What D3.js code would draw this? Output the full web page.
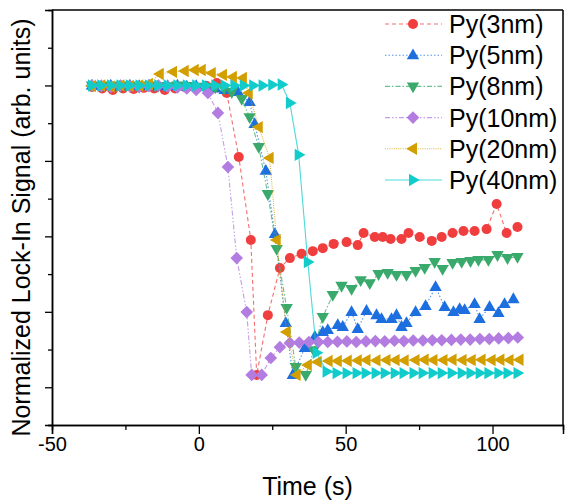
<!DOCTYPE html>
<html><head><meta charset="utf-8">
<script src="https://cdn.jsdelivr.net/npm/d3@7/dist/d3.min.js"></script>
<style>
html,body{margin:0;padding:0;background:#fff;}
text{font-family:"Liberation Sans",Arial,sans-serif;fill:#000;}
</style></head>
<body>
<svg id="chart" width="565" height="502"></svg>
<script>
// ---------- data ----------
const seriesNames = ["Py(3nm)","Py(5nm)","Py(8nm)","Py(10nm)","Py(20nm)","Py(40nm)"];
const xTicks = [-50, 0, 50, 100];
const xTickLabels = ["-50", "0", "50", "100"];
const xMinorTicks = [-25, 25, 75];
const yTicks = [0, 0.25, 0.5, 0.75, 1.0];
const yMinorTicks = [-0.125, 0.125, 0.375, 0.625, 0.875, 1.125];

const t3 = [-36.4,-32.9,-29.3,-25.8,-22.2,-18.7,-15.2,-11.6,-8.1,-4.5,-1.0,2.6,6.1,9.5,13.6,17.7,19.7,23.5,27.6,31.0,35.0,38.8,42.2,45.9,50.3,54.1,56.1,59.9,62.6,65.3,69.0,71.4,75.2,79.3,82.7,86.4,90.1,93.9,98.0,101.4,104.8,108.5];
const s3 = [0.995,0.99,0.985,0.99,0.988,0.992,0.99,0.985,0.99,0.993,0.995,0.998,1.008,0.975,0.763,0.488,0.041,0.239,0.395,0.428,0.442,0.451,0.461,0.475,0.481,0.471,0.511,0.498,0.498,0.491,0.491,0.511,0.498,0.485,0.498,0.511,0.518,0.518,0.524,0.607,0.511,0.531];

const t5 = [-36.4,-33.2,-30.0,-26.7,-23.5,-20.3,-17.0,-13.8,-10.6,-7.3,-4.1,-0.9,2.4,5.6,8.8,13.3,17.3,19.0,22.8,25.9,29.6,32.0,36.1,39.5,42.2,43.9,47.3,49.0,52.0,54.1,57.1,60.5,62.2,65.6,67.3,69.0,70.7,73.8,77.2,80.6,83.7,86.7,88.8,90.5,93.9,95.6,99.0,102.0,104.1,107.1];
const s5 = [1.0,0.998,1.0,0.997,1.0,0.998,1.0,0.997,0.998,1.0,0.996,0.998,0.995,0.99,0.985,0.978,0.945,0.872,0.717,0.508,0.213,0.041,0.130,0.167,0.183,0.190,0.206,0.200,0.249,0.193,0.253,0.239,0.226,0.226,0.239,0.200,0.213,0.249,0.269,0.332,0.266,0.249,0.259,0.256,0.276,0.226,0.266,0.246,0.276,0.292];

const t8 = [-36.4,-33.2,-30.0,-26.7,-23.5,-20.3,-17.0,-13.8,-10.6,-7.3,-4.1,-0.9,2.4,5.6,8.6,11.2,14.6,17.3,20.4,23.5,26.5,29.9,33.0,36.4,39.1,42.2,45.6,48.6,52.0,55.1,58.2,61.2,64.3,67.3,70.7,73.8,76.9,80.3,83.0,86.4,89.5,92.5,95.2,98.6,101.7,105.1,108.5];
const s8 = [1.0,0.997,1.0,0.998,1.0,0.996,1.0,0.998,0.997,1.0,0.998,0.996,0.995,0.993,0.99,0.978,0.955,0.895,0.796,0.640,0.458,0.263,0.067,0.041,0.123,0.233,0.306,0.336,0.326,0.355,0.345,0.375,0.379,0.372,0.372,0.385,0.395,0.415,0.392,0.412,0.415,0.418,0.422,0.422,0.438,0.428,0.432];

const t10 = [-36.4,-33.2,-30.0,-26.7,-23.5,-20.3,-17.0,-13.8,-10.6,-7.3,-4.1,-0.9,3.1,6.5,9.9,12.9,16.3,18.0,21.4,24.5,27.6,31.0,34.2,37.5,40.7,43.9,47.2,50.4,53.6,56.9,60.1,63.3,66.6,69.8,73.0,76.3,79.5,82.7,86.0,89.2,92.4,95.7,98.9,102.1,105.4,108.6];
const s10 = [1.0,0.998,0.995,1.0,0.997,0.995,0.998,1.0,0.996,0.993,0.99,0.985,0.975,0.909,0.730,0.428,0.249,0.041,0.041,0.097,0.133,0.147,0.148,0.150,0.150,0.150,0.151,0.152,0.150,0.152,0.153,0.152,0.154,0.153,0.155,0.155,0.156,0.156,0.157,0.158,0.158,0.160,0.160,0.162,0.163,0.165];

const t20 = [-36.4,-33.2,-30.0,-26.7,-23.5,-20.3,-17.0,-13.3,-8.8,-4.8,-1.4,1.0,4.4,8.2,11.6,15.0,17.0,20.4,24.1,26.5,29.9,33.3,37.1,40.5,44.2,47.3,50.7,54.1,57.1,60.5,63.9,67.0,70.1,73.8,76.9,79.9,83.3,86.4,89.8,92.9,96.3,99.7,102.7,105.8,109.2];
const s20 = [0.998,1.0,0.996,1.0,0.998,1.0,1.005,1.038,1.045,1.048,1.051,1.051,1.041,1.035,1.028,1.025,0.975,0.862,0.760,0.488,0.183,0.041,0.074,0.084,0.087,0.087,0.088,0.089,0.090,0.089,0.090,0.090,0.089,0.090,0.091,0.090,0.090,0.091,0.090,0.090,0.091,0.090,0.091,0.090,0.091];

const t40 = [-36.4,-33.2,-29.9,-26.7,-23.5,-20.2,-17.0,-13.8,-10.6,-7.3,-4.1,-0.9,2.4,5.6,8.8,12.1,15.3,18.5,21.7,25.0,28.2,31.0,34.0,37.1,40.1,43.5,46.9,50.3,53.7,56.8,60.2,63.3,66.7,69.7,73.1,76.2,79.6,82.7,86.1,89.5,92.5,95.6,98.6,102.0,105.1,108.5];
const s40 = [1.0,1.0,1.0,1.0,1.0,1.0,1.0,1.0,1.0,1.0,1.0,1.0,1.0,1.0,1.0,1.0,1.0,1.0,1.0,1.002,1.003,0.942,0.770,0.415,0.114,0.052,0.047,0.047,0.047,0.047,0.047,0.047,0.047,0.047,0.047,0.047,0.047,0.047,0.047,0.047,0.047,0.047,0.047,0.047,0.047,0.047];

const seriesT = [t3, t5, t8, t10, t20, t40];
const seriesS = [s3, s5, s8, s10, s20, s40];

// ---------- styles ----------
const colors = ["#F03E3E","#1D6FE0","#3AAA6C","#B27CE0","#D29E00","#12CCCC"];
const dashes = ["4,3","1.5,2","5,2,1.5,2","5,2,1.5,2,1.5,2","1,1.2",null];
const shapes = ["circle","up","down","diamond","left","right"];

function markerPath(kind){
  switch(kind){
    case "up": return "M0,-6.8L6.2,4L-6.2,4Z";
    case "down": return "M0,6.8L6.2,-4L-6.2,-4Z";
    case "left": return "M-6.8,0L4,-6.2L4,6.2Z";
    case "right": return "M6.8,0L-4,-6.2L-4,6.2Z";
    case "diamond": return "M0,-6.3L6.3,0L0,6.3L-6.3,0Z";
  }
  return null;
}

const L = 52, R = 563, T = 10, B = 425;
const svg = d3.select("#chart");

const x = d3.scaleLinear().domain([-50, 124]).range([L, R]);
const y = d3.scaleLinear().domain([-0.125, 1.25]).range([B, T]);

// frame top / right
svg.append("line").attr("x1",L).attr("x2",R).attr("y1",T).attr("y2",T).attr("stroke","#000").attr("stroke-width",1.5);
svg.append("line").attr("x1",R).attr("x2",R).attr("y1",T).attr("y2",B).attr("stroke","#000").attr("stroke-width",1.5);

// axes
const gx = svg.append("g").attr("transform",`translate(0,${B})`)
  .call(d3.axisBottom(x).tickValues(xTicks).tickSize(9).tickPadding(3)
    .tickFormat((d,i)=>xTickLabels[i]));
svg.append("g").attr("transform",`translate(0,${B})`)
  .call(d3.axisBottom(x).tickValues(xMinorTicks).tickSize(5).tickFormat(""));
svg.append("g").attr("transform",`translate(${L},0)`)
  .call(d3.axisLeft(y).tickValues(yTicks).tickSize(7).tickFormat(""));
svg.append("g").attr("transform",`translate(${L},0)`)
  .call(d3.axisLeft(y).tickValues(yMinorTicks).tickSize(4).tickFormat(""));
svg.selectAll(".domain").attr("stroke","#000").attr("stroke-width",1.5);
svg.selectAll(".tick line").attr("stroke","#000").attr("stroke-width",1.3);
gx.selectAll(".tick text").attr("font-size",20).style("font-family","'Liberation Sans',Arial,sans-serif");

// axis titles
svg.append("text").attr("x",(L+R)/2).attr("y",495).attr("text-anchor","middle").attr("font-size",25).text("Time (s)");
svg.append("text").attr("transform",`translate(30,${(T+B)/2+10}) rotate(-90)`).attr("text-anchor","middle").attr("font-size",25).text("Normalized Lock-In Signal (arb. units)");

// series
const plot = svg.append("g");
seriesNames.forEach((name,i)=>{
  const data = seriesT[i].map((t,k)=>({t, s: seriesS[i][k]}));
  const line = d3.line().x(d=>x(d.t)).y(d=>y(d.s));
  const g = plot.append("g");
  g.append("path").datum(data).attr("d",line).attr("fill","none")
    .attr("stroke",colors[i]).attr("stroke-opacity",0.75).attr("stroke-width",1.1)
    .attr("stroke-dasharray",dashes[i]);
  if(shapes[i]==="circle"){
    g.selectAll("circle").data(data).join("circle")
      .attr("cx",d=>x(d.t)).attr("cy",d=>y(d.s)).attr("r",5).attr("fill",colors[i]);
  } else {
    g.selectAll("path.m").data(data).join("path").attr("class","m")
      .attr("transform",d=>`translate(${x(d.t)},${y(d.s)})`)
      .attr("d",markerPath(shapes[i])).attr("fill",colors[i]);
  }
});

// legend
const lg = svg.append("g");
seriesNames.forEach((name,i)=>{
  const yy = 24 + 31.2*i;
  lg.append("line").attr("x1",385).attr("x2",442).attr("y1",yy).attr("y2",yy)
    .attr("stroke",colors[i]).attr("stroke-opacity",0.75).attr("stroke-width",1.1).attr("stroke-dasharray",dashes[i]);
  if(shapes[i]==="circle"){
    lg.append("circle").attr("cx",413).attr("cy",yy).attr("r",5).attr("fill",colors[i]);
  } else {
    lg.append("path").attr("transform",`translate(413,${yy})`).attr("d",markerPath(shapes[i])).attr("fill",colors[i]);
  }
  lg.append("text").attr("x",449).attr("y",yy+9).attr("font-size",25).text(name);
});
</script>
</body></html>
